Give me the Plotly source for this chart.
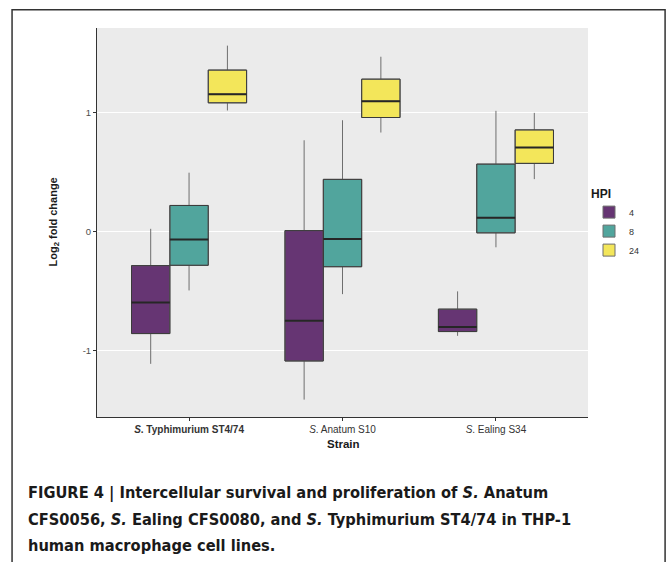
import plotly.graph_objects as go

strains = ["Typhimurium", "Anatum", "Ealing"]
strain_labels = ["<b><i>S</i>. Typhimurium ST4/74</b>", "<i>S</i>. Anatum S10", "<i>S</i>. Ealing S34"]
hpi = ["4", "8", "24"]

# per HPI level: values for [Typhimurium, Anatum, Ealing]
lower_4 = [-1.11, -1.41, -0.875]
q1_4 = [-0.856, -1.086, -0.839]
med_4 = [-0.595, -0.749, -0.80]
q3_4 = [-0.286, 0.008, -0.651]
upper_4 = [0.023, 0.766, -0.502]

lower_8 = [-0.494, -0.525, -0.132]
q1_8 = [-0.283, -0.295, -0.011]
med_8 = [-0.067, -0.062, 0.115]
q3_8 = [0.219, 0.438, 0.566]
upper_8 = [0.494, 0.934, 1.013]

lower_24 = [1.016, 0.831, 0.44]
q1_24 = [1.080, 0.957, 0.572]
med_24 = [1.153, 1.094, 0.705]
q3_24 = [1.355, 1.279, 0.853]
upper_24 = [1.56, 1.467, 0.996]

y_ticks = [-1, 0, 1]
y_tick_labels = ["-1", "0", "1"]

colors = ["#663573", "#51A59D", "#F3E65A"]
stats = [
    (lower_4, q1_4, med_4, q3_4, upper_4),
    (lower_8, q1_8, med_8, q3_8, upper_8),
    (lower_24, q1_24, med_24, q3_24, upper_24),
]

fig = go.Figure()
box_w = 0.25
shapes = []
for j, (lo, q1, md, q3, up) in enumerate(stats):
    fig.add_trace(go.Box(
        x=strains, lowerfence=lo, q1=q1, median=md, q3=q3, upperfence=up,
        name=hpi[j], fillcolor=colors[j],
        line=dict(color="#6e6e6e", width=1), whiskerwidth=0,
        hoverinfo="skip",
    ))
    for i in range(len(strains)):
        xc = i + (j - 1) * box_w
        shapes.append(dict(type="rect", xref="x", yref="y",
                           x0=xc - box_w / 2, x1=xc + box_w / 2, y0=q1[i], y1=q3[i],
                           line=dict(color="#3a3a3a", width=1), layer="above"))
        shapes.append(dict(type="line", xref="x", yref="y",
                           x0=xc - box_w / 2, x1=xc + box_w / 2, y0=md[i], y1=md[i],
                           line=dict(color="#262626", width=2), layer="above"))

# outer figure frame
shapes.append(dict(type="rect", xref="paper", yref="paper",
                   x0=-0.173, x1=1.157, y0=-0.45, y1=1.047,
                   line=dict(color="#333333", width=1.5), layer="above"))

cap_font = dict(family="DejaVu Sans Condensed, Liberation Sans Narrow, Liberation Sans, sans-serif",
                size=16.3, color="#1a1a1a")
caption_lines = [
    "<b>FIGURE 4 | Intercellular survival and proliferation of <i>S.</i> Anatum</b>",
    "<b>CFS0056, <i>S.</i> Ealing CFS0080, and <i>S.</i> Typhimurium ST4/74 in THP-1</b>",
    "<b>human macrophage cell lines.</b>",
]
cap_y = [493, 519, 545]
annotations = []
for t, py in zip(caption_lines, cap_y):
    annotations.append(dict(text=t, xref="paper", yref="paper",
                            x=(26 - 97) / 491, y=(417 - py) / 389,
                            xanchor="left", yanchor="middle", showarrow=False,
                            font=cap_font, align="left"))
annotations.append(dict(text="<b>Strain</b>", xref="paper", yref="paper",
                        x=(343 - 97) / 491, y=(417 - 444) / 389,
                        xanchor="center", yanchor="middle", showarrow=False,
                        font=dict(family="Liberation Sans, Arial, sans-serif", size=11.5, color="#1a1a1a")))
annotations.append(dict(text="<b>Log<sub>2</sub> fold change</b>", xref="paper", yref="paper",
                        x=(53 - 97) / 491, y=0.5, textangle=-90,
                        xanchor="center", yanchor="middle", showarrow=False,
                        font=dict(family="Liberation Sans, Arial, sans-serif", size=11, color="#1a1a1a")))

fig.update_layout(
    width=667, height=562,
    margin=dict(l=97, r=79, t=28, b=145, autoexpand=False),
    paper_bgcolor="white", plot_bgcolor="#EBEBEB",
    boxmode="group", boxgap=0.25, boxgroupgap=0,
    shapes=shapes, annotations=annotations,
    legend=dict(title=dict(text="<b>HPI</b>", font=dict(size=12, color="#1a1a1a")),
                x=(589 - 97) / 491, y=(417 - 182) / 389, xanchor="left", yanchor="top",
                font=dict(family="Liberation Sans, Arial, sans-serif", size=9, color="#333333"),
                bgcolor="rgba(0,0,0,0)", tracegroupgap=0, itemwidth=30),
    font=dict(family="Liberation Sans, Arial, sans-serif"),
)
fig.update_xaxes(
    type="category", range=[-0.6, 2.6], tickvals=strains, ticktext=strain_labels,
    showgrid=False, showline=True, linecolor="#333333", linewidth=1,
    ticks="outside", ticklen=3, tickcolor="#333333",
    tickfont=dict(size=10, color="#333333"),
)
fig.update_yaxes(
    range=[-1.556, 1.708], tickvals=y_ticks, ticktext=y_tick_labels,
    showgrid=True, gridcolor="white", gridwidth=1, zeroline=False,
    showline=True, linecolor="#333333", linewidth=1,
    ticks="outside", ticklen=3, tickcolor="#333333",
    tickfont=dict(size=9.5, color="#4d4d4d"),
)

fig.write_html("out.html", config={"displayModeBar": False},
               post_script="document.body.style.margin='0';")
